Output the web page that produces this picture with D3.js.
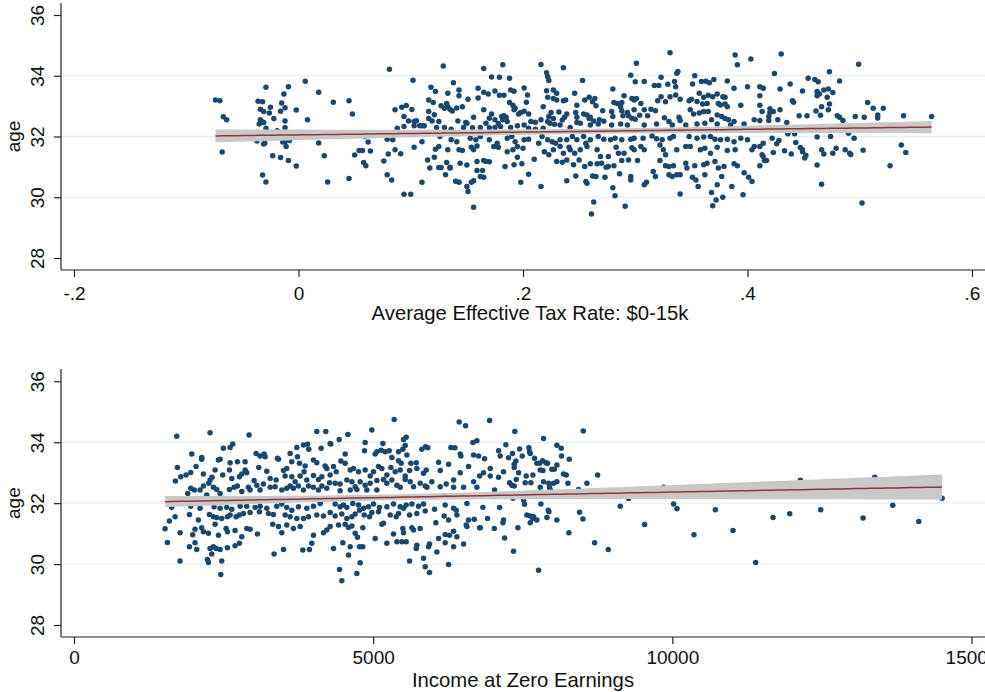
<!DOCTYPE html>
<html><head><meta charset="utf-8">
<script src="https://cdn.jsdelivr.net/npm/d3@7"></script>
<style>body{margin:0;background:#fff;} svg{display:block;font-family:"Liberation Sans",Arial,Helvetica,sans-serif;}</style>
</head><body><svg id="c" width="985" height="692"></svg>
<script>
const yTicks=[28,30,32,34,36];
const gridVals=[30,32,34];
const topXTicks=[-0.2,0,0.2,0.4,0.6];
const topXLabels=["-.2","0",".2",".4",".6"];
const botXTicks=[0,5000,10000,15000];
const botXLabels=["0","5000","10000","15000"];
const topTitle="Average Effective Tax Rate: $0-15k";
const botTitle="Income at Zero Earnings";
const yTitle="age";
// fitted line values at the ends of the data range
const topFitEnds=[32.02,32.31];
const botFitEnds=[32.05,32.53];

const topPoints=[
[-0.074,33.20],[-0.070,33.18],[-0.067,32.65],[-0.064,32.55],[-0.068,31.49],[-0.029,33.62],[-0.009,33.64],[0.006,33.82],[0.018,33.46],[0.031,33.13],[0.045,33.18],[0.048,32.74],[0.081,34.21],[-0.036,33.16],[-0.032,33.14],[-0.013,33.40],[-0.015,33.10],[-0.012,32.95],[-0.002,32.87],[-0.025,32.96],[-0.034,32.90],[-0.031,32.82],[-0.026,32.77],[-0.016,32.83],[-0.022,32.59],[-0.012,32.51],[0.008,32.55],[-0.034,32.55],[-0.032,32.48],[-0.035,32.41],[-0.031,32.46],[-0.029,32.27],[-0.012,32.29],[-0.019,32.19],[-0.037,31.85],[-0.031,31.75],[-0.030,31.78],[-0.014,31.82],[-0.012,31.82],[-0.008,31.87],[-0.011,31.67],[0.018,31.79],[-0.023,31.37],[-0.016,31.31],[-0.009,31.21],[-0.002,31.03],[0.023,31.37],[-0.032,30.73],[-0.029,30.50],[0.026,30.50],[0.045,30.62],[0.050,31.39],[0.054,31.54],[0.057,31.54],[0.064,31.52],[0.058,31.14],[0.060,31.04],[0.062,31.82],[0.076,31.19],[0.079,31.91],[0.080,31.42],[0.079,30.74],[0.059,32.00],
[0.129,34.32],[0.165,34.24],[0.182,34.36],[0.216,34.37],[0.236,34.26],[0.221,34.10],[0.222,33.97],[0.223,33.84],[0.102,33.85],[0.138,33.77],[0.172,33.96],[0.179,33.95],[0.188,33.92],
[0.118,33.62],[0.122,33.48],[0.143,33.53],[0.160,33.59],[0.165,33.46],[0.169,33.40],[0.175,33.50],[0.179,33.36],[0.183,33.36],[0.189,33.53],[0.192,33.49],[0.201,33.60],[0.221,33.51],[0.227,33.53],[0.230,33.42],[0.222,33.29],[0.227,33.25],[0.230,33.20],[0.236,33.18],[0.238,33.20],[0.204,33.37],[0.116,33.20],[0.120,33.12],[0.133,33.42],[0.143,33.34],[0.151,33.23],[0.160,33.27],
[0.086,32.88],[0.092,32.96],[0.096,33.02],[0.101,32.89],[0.094,32.66],[0.098,32.51],[0.103,32.49],[0.105,32.52],[0.108,32.35],[0.112,32.35],[0.116,32.82],[0.121,32.72],[0.116,32.59],[0.119,32.51],[0.125,32.49],[0.123,32.30],[0.127,33.01],[0.130,32.93],[0.132,33.09],[0.133,32.98],[0.135,32.90],[0.137,32.84],[0.141,32.94],[0.146,32.98],[0.142,32.51],[0.149,32.46],[0.150,32.44],[0.156,32.63],[0.165,32.88],[0.170,32.60],[0.167,32.44],[0.172,32.74],[0.175,32.55],[0.178,32.43],[0.181,32.66],[0.183,32.68],[0.185,32.63],[0.186,32.49],[0.182,32.55],[0.188,33.12],[0.191,33.03],[0.193,32.93],[0.192,32.88],[0.196,32.74],[0.198,32.79],[0.201,32.83],[0.203,33.13],[0.205,32.74],[0.207,32.49],[0.211,32.47],[0.216,32.55],[0.218,32.98],[0.223,32.66],[0.225,32.79],[0.227,32.59],[0.232,32.81],[0.235,32.54],[0.237,32.63],[0.239,32.74],[0.222,32.49],[0.224,32.44],[0.228,32.40],[0.233,32.38],[0.242,32.30],
[0.088,32.27],[0.094,32.33],[0.103,32.35],[0.110,32.35],[0.130,32.30],[0.136,32.24],[0.147,32.30],[0.155,32.29],[0.162,32.30],[0.170,32.29],[0.175,32.30],[0.180,32.33],[0.189,32.30],[0.195,32.35],[0.201,32.38],[0.205,32.27],[0.211,32.24],[0.218,32.27],
[0.084,31.89],[0.110,31.83],[0.126,32.00],[0.136,31.89],[0.141,31.83],[0.153,31.94],[0.158,31.89],[0.162,32.00],[0.170,31.89],[0.177,31.78],[0.186,31.94],[0.190,32.00],[0.193,31.83],[0.201,31.89],[0.205,31.91],[0.214,31.78],[0.217,32.00],[0.222,31.89],[0.226,31.83],[0.229,31.78],[0.233,31.89],[0.239,31.89],
[0.086,31.56],[0.091,31.43],[0.103,31.65],[0.122,31.58],[0.125,31.67],[0.133,31.56],[0.143,31.56],[0.146,31.54],[0.154,31.65],[0.156,31.56],[0.159,31.69],[0.174,31.67],[0.178,31.65],[0.186,31.50],[0.191,31.56],[0.195,31.67],[0.200,31.61],[0.219,31.50],[0.223,31.40],[0.227,31.56],[0.233,31.67],[0.236,31.45],[0.241,31.65],
[0.115,31.23],[0.121,31.32],[0.132,31.14],[0.135,30.99],[0.144,31.12],[0.150,31.06],[0.159,31.18],[0.165,31.21],[0.167,31.18],[0.170,31.17],[0.184,31.01],[0.192,31.07],[0.195,31.32],[0.199,31.10],[0.210,31.25],[0.230,31.18],[0.235,31.15],[0.239,31.23],
[0.083,30.57],[0.110,30.49],[0.117,30.96],[0.125,30.98],[0.127,30.98],[0.131,30.74],[0.135,30.96],[0.140,30.53],[0.143,30.49],[0.150,30.35],[0.151,30.19],[0.154,30.49],[0.156,30.54],[0.159,30.88],[0.162,30.68],[0.165,30.66],[0.164,30.88],[0.198,30.49],[0.205,30.76],[0.216,30.35],[0.239,30.54],[0.094,30.10],[0.100,30.10],[0.156,29.67],
[0.331,34.76],[0.389,34.68],[0.403,34.55],[0.391,34.36],[0.301,34.41],[0.253,33.84],[0.296,34.02],[0.323,33.95],[0.338,34.14],[0.337,34.08],[0.353,34.00],[0.359,33.81],[0.363,33.82],[0.366,33.77],[0.370,33.88],[0.382,33.83],
[0.246,33.42],[0.280,33.56],[0.300,33.80],[0.308,33.81],[0.317,33.68],[0.321,33.68],[0.329,33.72],[0.335,33.81],[0.336,33.64],[0.351,33.73],[0.357,33.42],[0.361,33.29],[0.365,33.36],[0.373,33.40],[0.378,33.31],[0.380,33.29],[0.388,33.59],[0.400,33.64],
[0.248,33.03],[0.255,33.20],[0.259,33.29],[0.262,33.14],[0.264,33.25],[0.265,33.01],[0.271,32.85],[0.281,33.12],[0.284,33.09],[0.287,32.98],[0.288,33.12],[0.290,33.34],[0.297,33.25],[0.299,33.20],[0.301,33.25],[0.305,33.09],[0.308,32.88],[0.314,32.90],[0.318,32.85],[0.320,33.18],[0.323,33.31],[0.327,33.14],[0.331,33.31],[0.336,33.37],[0.340,33.23],[0.348,33.18],[0.350,33.23],[0.355,33.15],[0.360,33.07],[0.364,33.09],[0.369,33.31],[0.374,33.09],[0.376,33.04],[0.380,33.07],[0.382,32.98],[0.394,33.03],
[0.247,32.79],[0.248,32.63],[0.254,32.74],[0.257,32.71],[0.259,32.59],[0.260,32.63],[0.263,32.51],[0.268,32.55],[0.272,32.50],[0.279,32.82],[0.280,32.66],[0.288,32.85],[0.289,32.68],[0.293,32.79],[0.294,32.68],[0.297,32.60],[0.299,32.88],[0.300,32.57],[0.304,32.70],[0.311,32.68],[0.326,32.62],[0.330,32.49],[0.339,32.63],[0.340,32.53],[0.349,32.88],[0.352,32.74],[0.357,32.77],[0.361,32.82],[0.365,32.82],[0.368,32.55],[0.373,32.71],[0.377,32.66],[0.380,32.59],[0.383,32.55],[0.388,32.49],[0.406,32.55],
[0.248,32.46],[0.251,32.44],[0.260,32.38],[0.267,32.41],[0.279,32.38],[0.287,32.41],[0.293,32.38],[0.308,32.38],[0.319,32.41],[0.333,32.38],[0.345,32.38],[0.355,32.41],[0.362,32.44],[0.373,32.41],[0.385,32.38],[0.397,32.41],
[0.244,32.00],[0.248,31.89],[0.254,32.00],[0.256,31.78],[0.260,31.89],[0.267,32.00],[0.272,31.91],[0.278,31.89],[0.282,31.94],[0.288,31.89],[0.296,31.91],[0.299,31.94],[0.307,31.94],[0.315,32.02],[0.319,31.93],[0.324,31.89],[0.331,31.94],[0.334,32.00],[0.348,32.00],[0.355,31.94],[0.361,31.98],[0.367,32.00],[0.371,31.91],[0.376,31.89],[0.382,31.91],[0.388,31.83],[0.394,31.94],[0.400,31.89],[0.406,31.67],
[0.242,31.56],[0.246,31.45],[0.251,31.56],[0.257,31.67],[0.266,31.56],[0.269,31.34],[0.276,31.34],[0.283,31.65],[0.285,31.45],[0.290,31.45],[0.297,31.63],[0.299,31.56],[0.305,31.67],[0.308,31.56],[0.322,31.72],[0.325,31.56],[0.327,31.40],[0.337,31.56],[0.345,31.67],[0.349,31.67],[0.358,31.56],[0.362,31.61],[0.367,31.45],[0.373,31.65],[0.382,31.54],[0.389,31.56],[0.404,31.56],
[0.245,31.07],[0.250,31.23],[0.255,31.01],[0.260,31.10],[0.266,31.10],[0.270,31.12],[0.274,30.99],[0.276,31.01],[0.281,31.04],[0.288,31.21],[0.294,31.23],[0.302,31.21],[0.316,30.85],[0.322,31.21],[0.327,31.04],[0.330,31.01],[0.334,31.04],[0.345,31.12],[0.346,30.96],[0.353,31.04],[0.361,31.07],[0.364,31.12],[0.371,31.18],[0.374,30.96],[0.379,31.01],[0.388,31.10],[0.391,31.04],[0.397,30.81],
[0.247,30.70],[0.256,30.52],[0.257,30.46],[0.262,30.70],[0.265,30.68],[0.273,30.66],[0.280,30.31],[0.286,30.77],[0.296,30.68],[0.296,30.57],[0.308,30.41],[0.310,30.49],[0.318,30.68],[0.330,30.74],[0.333,30.68],[0.337,30.74],[0.340,30.74],[0.351,30.66],[0.354,30.57],[0.356,30.35],[0.362,30.74],[0.373,30.41],[0.377,30.68],[0.386,30.35],[0.401,30.66],[0.404,30.52],
[0.282,30.05],[0.263,29.84],[0.261,29.45],[0.291,29.70],[0.340,30.11],[0.368,30.16],[0.372,29.91],[0.378,30.00],[0.369,29.72],[0.396,30.08],
[0.430,34.72],[0.499,34.38],[0.424,34.07],[0.473,34.13],[0.454,33.92],[0.460,33.88],[0.463,33.80],[0.482,33.83],[0.438,33.73],[0.411,33.64],[0.414,33.59],[0.429,33.56],[0.449,33.50],[0.462,33.48],[0.464,33.40],[0.462,33.34],[0.468,33.53],[0.472,33.56],[0.476,33.45],[0.471,33.29],[0.440,33.18],[0.441,33.13],[0.473,33.07],[0.466,32.98],[0.472,32.88],[0.461,32.84],[0.465,32.70],[0.507,33.12],[0.512,32.93],[0.521,32.93],[0.516,32.71],[0.516,32.61],[0.504,32.63],[0.496,32.66],[0.539,32.68],[0.564,32.66],[0.480,32.68],[0.482,32.63],[0.485,32.53],[0.453,32.68],[0.446,32.68],[0.411,33.34],[0.411,33.03],[0.413,32.82],[0.420,32.91],[0.420,32.79],[0.423,32.82],[0.429,32.88],[0.419,32.66],[0.411,32.53],[0.419,32.53],[0.427,32.55],[0.435,32.46],
[0.436,32.09],[0.442,32.09],[0.462,31.98],[0.474,32.00],[0.490,32.11],[0.495,31.94],[0.422,31.94],[0.428,31.87],[0.426,31.76],[0.414,31.78],[0.443,31.80],[0.411,31.67],[0.423,31.47],[0.433,31.53],[0.439,31.42],[0.447,31.64],[0.449,31.56],[0.449,31.50],[0.452,31.38],[0.451,31.29],[0.466,31.56],[0.468,31.42],[0.476,31.45],[0.479,31.61],[0.487,31.56],[0.491,31.45],[0.492,31.41],[0.503,31.55],[0.537,31.72],[0.541,31.47],[0.413,31.40],[0.414,31.34],[0.415,31.21],[0.417,31.21],[0.411,31.04],[0.462,31.06],[0.527,31.04],[0.466,30.43],[0.502,29.81]
];

const botPoints=[
[1717,34.20],[2274,34.31],[2926,34.24],[4058,34.35],[4208,34.35],[4281,33.96],[2497,33.80],[2609,33.83],[2653,33.94],[1968,33.61],[2135,33.50],[2135,33.44],[1728,33.17],[2414,33.42],[2442,33.44],[2609,33.33],[2731,33.36],[2860,33.36],[3044,33.63],[3110,33.55],[3177,33.61],[3194,33.52],[3417,33.44],[3400,33.47],[3612,33.63],[3724,33.83],[3835,33.91],[3902,33.93],[3924,33.77],[4130,33.80],[3735,33.52],[3640,33.36],[3768,33.31],[3863,33.22],[4002,33.42],[4058,33.33],[4197,33.22],
[1695,32.73],[1784,32.87],[1873,32.92],[1951,33.01],[2040,33.20],[2163,32.96],[2274,32.76],[2308,32.85],[2252,32.65],[2358,33.09],[2486,32.92],[2598,33.09],[2637,32.81],[2765,32.87],[2804,32.96],[2860,33.09],[2887,33.00],[3010,32.74],[3088,33.17],[3222,33.05],[3278,32.81],[3378,32.76],[3501,33.07],[3528,32.89],[3556,33.14],[3640,32.87],[3696,32.70],[3779,32.89],[3846,33.03],[3891,32.76],[4002,32.91],[4086,32.78],[4142,32.87],[4225,33.14],[4270,32.67],
[1901,32.32],[1951,32.49],[2012,32.43],[2107,32.43],[2163,32.56],[2219,32.27],[2330,32.52],[2386,32.45],[2442,32.32],[2598,32.45],[2676,32.52],[2731,32.56],[2804,32.38],[2915,32.52],[2943,32.43],[3055,32.59],[3110,32.43],[3166,32.63],[3278,32.52],[3361,32.54],[3473,32.43],[3556,32.49],[3612,32.56],[3668,32.49],[3751,32.56],[3835,32.43],[3919,32.56],[4002,32.52],[4086,32.43],[4142,32.56],[4225,32.49],
[1633,31.86],[1951,31.90],[2107,31.83],[2341,31.88],[2442,31.83],[2553,31.86],[2637,31.80],[2776,31.90],[2887,31.90],[3027,31.86],[3110,31.90],[3222,31.83],[3389,31.90],[3473,31.97],[3556,31.86],[3640,31.77],[3751,31.88],[3891,31.83],[4002,31.90],[4114,31.99],
[1689,31.55],[1594,31.41],[1929,31.63],[2079,31.45],[2263,31.63],[2330,31.55],[2386,31.53],[2469,31.50],[2564,31.55],[2609,31.61],[2709,31.55],[2765,31.61],[2832,31.66],[2943,31.69],[3099,31.72],[3250,31.66],[3333,31.63],[3529,31.61],[3612,31.55],[3724,31.50],[3835,31.50],[3919,31.55],[4058,31.61],[4169,31.58],
[1522,31.16],[1773,31.03],[1984,30.96],[2023,31.14],[2135,31.19],[2163,31.06],[2247,31.01],[2358,31.31],[2414,30.95],[2542,31.17],[2564,31.06],[2692,31.10],[2887,31.17],[2943,31.14],[3066,30.99],[3322,31.31],[3417,31.23],[3473,31.03],[3556,31.28],[3668,31.17],[3779,31.23],[4002,30.95],[4169,31.03],[4225,31.12],
[1561,30.71],[1929,30.57],[2023,30.70],[2051,30.48],[2274,30.51],[2330,30.57],[2375,30.51],[2442,30.48],[2564,30.54],[2692,30.60],[2765,30.68],[2804,30.90],[3974,30.68],[3935,30.48],[3824,30.46],[3344,30.33],[3501,30.48],[2302,30.33],[2230,30.15],[2247,30.05],[1773,30.10],[2469,30.10],[2453,29.66],
[5351,34.75],[6438,34.66],[6544,34.54],[6946,34.71],[4577,34.25],[4432,34.09],[4292,33.94],[4978,34.40],[4866,33.99],[5162,33.96],[5508,34.09],[5552,34.16],[5535,33.89],[5814,33.77],[5875,33.85],[5914,33.82],[6299,33.83],[6366,33.82],[6455,33.61],[6667,33.99],[6734,34.05],[7096,33.72],
[4532,33.61],[4460,33.38],[4855,33.72],[5034,33.61],[5062,33.69],[5134,33.74],[5201,33.69],[5268,33.72],[5424,33.69],[5496,33.77],[5563,33.58],[5312,33.50],[5424,33.39],[5469,33.31],[5630,33.31],[5719,33.33],[6093,33.34],[6260,33.28],[6466,33.55],[6678,33.58],[6762,33.55],[6862,33.46],[6594,33.20],[6957,33.14],[7096,32.85],
[4281,32.92],[4337,33.20],[4382,33.03],[4532,33.31],[4616,33.09],[4671,33.14],[4755,33.03],[4866,33.09],[4950,32.89],[5006,33.03],[5089,33.20],[5145,33.14],[5229,32.92],[5296,33.17],[5368,33.03],[5452,33.09],[5535,32.89],[5608,33.07],[5730,33.14],[5842,32.98],[5887,33.09],[5981,32.70],[6121,33.07],[6221,32.63],[6344,32.76],[6455,33.00],[6511,32.52],[6678,32.70],[6778,32.89],[6845,33.00],[6957,32.89],[7029,32.43],
[4365,32.65],[4448,32.63],[4560,32.76],[4644,32.70],[4699,32.54],[4783,32.70],[4866,32.59],[4950,32.65],[5062,32.74],[5173,32.78],[5229,32.65],[5312,32.76],[5396,32.59],[5535,32.78],[5619,32.70],[5675,32.54],[5786,32.65],[5870,32.56],[4448,32.41],[4616,32.43],[4727,32.45],[4894,32.43],[5062,32.43],[5452,32.52],[5898,32.52],[6121,32.54],[6344,32.52],[6734,32.52],
[4365,31.97],[4448,31.88],[4504,31.94],[4560,31.86],[4660,31.99],[4755,31.94],[4839,31.83],[4922,31.88],[5006,31.97],[5106,31.86],[5229,31.88],[5340,31.97],[5452,31.88],[5552,31.94],[5647,31.97],[5758,31.90],[5842,31.97],[6026,31.80],[6204,31.94],[6344,31.83],[6388,31.77],[6567,31.99],[6834,31.86],[7113,31.86],
[4281,31.69],[4365,31.58],[4476,31.64],[4560,31.50],[4644,31.55],[4699,31.64],[4772,31.77],[4850,31.61],[4939,31.55],[4978,31.69],[5089,31.72],[5173,31.34],[5285,31.61],[5385,31.55],[5424,31.66],[5508,31.83],[5608,31.61],[5730,31.66],[5870,31.74],[6187,31.58],[6260,31.45],[6399,31.61],[6555,31.28],[6594,31.45],[6689,31.47],[6912,31.50],[6778,31.19],
[4281,31.23],[4421,31.28],[4532,31.31],[4588,31.20],[4644,31.25],[4699,31.01],[4827,31.19],[5145,31.31],[5340,30.99],[5496,31.17],[5508,31.03],[5647,31.19],[5675,31.12],[5786,31.17],[6048,31.36],[6204,30.97],[6277,30.95],[6344,31.08],[6567,31.23],[6790,31.19],[7024,31.17],
[4337,30.51],[4493,30.70],[4616,30.57],[4772,30.57],[4738,30.88],[4827,30.57],[5034,30.84],[5229,30.68],[5396,30.73],[5480,30.73],[5552,30.73],[5730,30.62],[5719,30.51],[5926,30.57],[5942,30.66],[6065,30.40],[6093,30.84],[6204,30.70],[6344,30.57],[6399,30.90],[6511,30.66],
[4588,30.30],[4783,30.04],[4727,29.69],[4437,29.82],[4476,29.45],[5608,30.10],[5842,30.19],[5870,29.91],[5942,29.72],[6260,29.99],
[7368,34.35],[7848,34.12],[8511,34.37],[7218,33.92],[7123,33.55],[7263,33.49],[7329,33.63],[7447,33.78],[7603,33.82],[7614,33.69],[7625,33.63],[7491,33.55],[8071,33.90],[8143,33.80],[8149,33.55],[8277,33.44],[7385,33.38],[7357,33.28],[7357,33.17],[7697,33.47],[7736,33.31],[7781,33.31],[7831,33.39],[7887,33.33],[7915,33.31],[7792,33.09],[7837,33.07],[7987,33.11],[8026,33.11],[8071,33.25],[7179,33.03],[7430,33.00],[7558,32.89],[7669,32.92],[8182,32.96],[8227,32.92],[8751,32.92],[7279,32.67],[7318,32.59],[7357,32.56],[7391,32.78],[7541,32.67],[7636,32.67],[7848,32.70],[7931,32.65],[7948,32.52],[8015,32.65],[8071,32.70],[8255,32.65],[8572,32.65],[8433,32.45],[7792,32.52],[7959,32.43],
[7513,32.10],[7530,31.96],[7803,31.97],[7926,31.77],[7937,31.72],[8450,31.70],[8506,31.48],[9130,31.90],[9269,32.15],[7569,31.61],[7625,31.58],[7681,31.55],[7736,31.45],[7625,31.36],[7669,31.50],[7904,31.53],[8071,31.45],[7179,31.45],[7168,31.36],[7419,31.19],[8271,31.03],[7196,30.86],[7346,30.42],[7764,29.80],[8701,30.70],[8929,30.48],[9537,31.30],[7335,32.16],
[9855,32.52],[10022,31.97],[10078,31.82],[10362,30.96],[10719,31.78],[11014,31.10],[11393,30.05],[11683,31.53],[11962,31.65],[12140,32.75],[12480,31.78],[13188,31.51],[13383,32.85],[13684,31.93],[14119,31.40],[14509,32.16]
];

const svg=d3.select("#c");
const NAVY="#1a476f", MAROON="#90353b", GRID="#e9f0f2", AXIS="#222";
const FS=19, TFS=20.3;

// line through the read end values; 95% band from the data's OLS standard error
function fit(pts,ends){
  const n=pts.length;
  const mx=d3.mean(pts,d=>d[0]);
  const [x0,x1]=d3.extent(pts,d=>d[0]);
  const b=(ends[1]-ends[0])/(x1-x0), a=ends[0]-b*x0;
  let sxx=0; pts.forEach(d=>{sxx+=(d[0]-mx)**2;});
  let ss=0; pts.forEach(d=>{ss+=(d[1]-a-b*d[0])**2;});
  const s=Math.sqrt(ss/(n-2));
  const xs=d3.range(0,101).map(i=>x0+(x1-x0)*i/100);
  return xs.map(x=>{const se=s*Math.sqrt(1/n+(x-mx)**2/sxx); const yh=a+b*x; return {x,yh,lo:yh-1.96*se,hi:yh+1.96*se};});
}

function panel(cfg){
  const g=svg.append("g");
  const x=d3.scaleLinear().domain(cfg.xDom).range(cfg.xRange);
  const y=d3.scaleLinear().domain([28,36]).range(cfg.yRange);
  g.selectAll(".grid").data(gridVals).join("line")
    .attr("x1",cfg.left).attr("x2",985).attr("y1",d=>y(d)).attr("y2",d=>y(d))
    .attr("stroke",GRID).attr("stroke-width",1.3);
  g.append("g").selectAll("circle").data(cfg.pts).join("circle")
    .attr("cx",d=>x(d[0])).attr("cy",d=>y(d[1])).attr("r",2.75).attr("fill",NAVY);
  const f=fit(cfg.pts,cfg.ends);
  g.append("path").datum(f).attr("fill","#c8c8c8")
    .attr("d",d3.area().x(d=>x(d.x)).y0(d=>y(d.lo)).y1(d=>y(d.hi)));
  g.append("path").datum(f).attr("fill","none").attr("stroke",MAROON).attr("stroke-width",1.5)
    .attr("d",d3.line().x(d=>x(d.x)).y(d=>y(d.yh)));
  g.append("line").attr("x1",cfg.left).attr("x2",cfg.left).attr("y1",cfg.axTop).attr("y2",cfg.axBot).attr("stroke",AXIS).attr("stroke-width",1.2);
  g.append("line").attr("x1",cfg.left).attr("x2",985).attr("y1",cfg.axBot).attr("y2",cfg.axBot).attr("stroke",AXIS).attr("stroke-width",1.2);
  const ya=g.append("g").attr("transform",`translate(${cfg.left},0)`)
    .call(d3.axisLeft(y).tickValues(yTicks).tickSize(7).tickFormat(d3.format("d")));
  ya.select(".domain").remove();
  ya.selectAll("line").attr("stroke",AXIS).attr("stroke-width",1.2);
  ya.selectAll("text").attr("transform","rotate(-90)").attr("x",0).attr("y",-17).attr("dy",0)
    .attr("text-anchor","middle").attr("font-size",FS).attr("font-family","Liberation Sans, Arial, sans-serif").attr("fill","#111");
  const xa=g.append("g").attr("transform",`translate(0,${cfg.axBot})`)
    .call(d3.axisBottom(x).tickValues(cfg.xTicks).tickSize(7).tickFormat((d,i)=>cfg.xLabels[i]));
  xa.select(".domain").remove();
  xa.selectAll("line").attr("stroke",AXIS).attr("stroke-width",1.2);
  xa.selectAll("text").attr("y",cfg.labOff).attr("dy",0).attr("font-size",FS)
    .attr("font-family","Liberation Sans, Arial, sans-serif").attr("fill","#111");
  g.append("text").attr("x",cfg.titleX).attr("y",cfg.titleY).attr("text-anchor","middle")
    .attr("font-size",TFS).attr("fill","#111").text(cfg.title);
  g.append("text").attr("transform",`translate(20,${y(32)}) rotate(-90)`).attr("text-anchor","middle")
    .attr("font-size",FS).attr("fill","#111").text(yTitle);
}

panel({pts:topPoints,ends:topFitEnds,xDom:[-0.2,0.6],xRange:[74,972],yRange:[258,15],left:61,axTop:3,axBot:270,
  xTicks:topXTicks,xLabels:topXLabels,labOff:30,title:topTitle,titleX:530,titleY:320});
panel({pts:botPoints,ends:botFitEnds,xDom:[0,15000],xRange:[74,971.5],yRange:[625,381.3],left:61,axTop:369,axBot:637,
  xTicks:botXTicks,xLabels:botXLabels,labOff:27,title:botTitle,titleX:523,titleY:687});
</script></body></html>
